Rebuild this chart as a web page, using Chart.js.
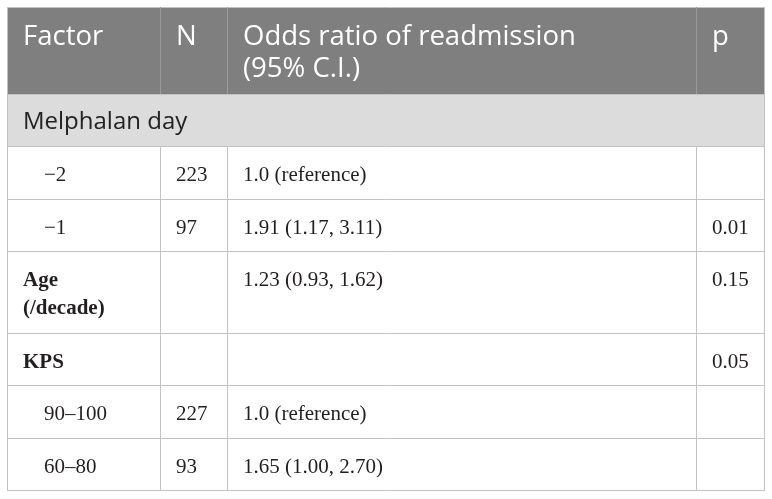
<!DOCTYPE html>
<html>
<head>
<meta charset="utf-8">
<script src="https://cdn.jsdelivr.net/npm/chart.js@4"></script>
<style>
  html, body { margin: 0; padding: 0; background: #fff; }
  canvas { display: block; }
</style>
</head>
<body>
<canvas id="oddsTable" width="772" height="499"></canvas>
<script>
// Table data
const headerLines = [["Factor"], ["N"], ["Odds ratio of readmission", "(95% C.I.)"], ["p"]];
const factorLabels = [["Melphalan day"], ["−2"], ["−1"], ["Age", "(/decade)"], ["KPS"], ["90–100"], ["60–80"]];
const rowKinds = ["section", "level", "level", "factor", "factor", "level", "level"];
const counts = [null, 223, 97, null, null, 227, 93];
const oddsRatios = [null, 1.0, 1.91, 1.23, null, 1.0, 1.65];
const ciLower = [null, null, 1.17, 0.93, null, null, 1.00];
const ciUpper = [null, null, 3.11, 1.62, null, null, 2.70];
const pValues = [null, null, 0.01, 0.15, 0.05, null, null];

// Layout (x in percent of table width, y in row units)
const colEdges = [0, 20.2, 29.0, 91.0, 100];
const HEADER_H = 87;
const ROW_PAD = 22.5;
const LINE_H = 29.8;

function formatOdds(i) {
  if (oddsRatios[i] == null) return "";
  if (ciLower[i] == null) return oddsRatios[i].toFixed(1) + " (reference)";
  return oddsRatios[i].toFixed(2) + " (" + ciLower[i].toFixed(2) + ", " + ciUpper[i].toFixed(2) + ")";
}

// cells for each body row, one array of lines per column
const bodyCells = factorLabels.map((f, i) => [
  f,
  counts[i] == null ? [] : [String(counts[i])],
  [formatOdds(i)],
  pValues[i] == null ? [] : [pValues[i].toFixed(2)]
]);

const rowHeights = factorLabels.map(f => ROW_PAD + LINE_H * f.length);
const rowTops = [];
let acc = HEADER_H;
rowHeights.forEach(h => { rowTops.push(acc); acc += h; });
const totalHeight = acc;

const tablePlugin = {
  id: "tablePlugin",
  afterDraw(chart) {
    const ctx = chart.ctx;
    const xs = chart.scales.x, ys = chart.scales.y;
    const X = v => Math.round(xs.getPixelForValue(v));
    const Y = v => Math.round(ys.getPixelForValue(v));
    const left = X(0), right = X(100);

    ctx.save();
    // header background
    ctx.fillStyle = "#7f7f7f";
    ctx.fillRect(left, Y(0), right - left, Y(HEADER_H) - Y(0));
    // section backgrounds
    rowKinds.forEach((k, i) => {
      if (k !== "section") return;
      ctx.fillStyle = "#dcdcdc";
      ctx.fillRect(left, Y(rowTops[i]), right - left, Y(rowTops[i] + rowHeights[i]) - Y(rowTops[i]));
    });

    // grid lines
    ctx.lineWidth = 1;
    ctx.strokeStyle = "#c3c3c3";
    const hline = (yv) => { ctx.beginPath(); ctx.moveTo(left, yv + 0.5); ctx.lineTo(right, yv + 0.5); ctx.stroke(); };
    const vline = (xv, y0, y1) => { ctx.beginPath(); ctx.moveTo(xv + 0.5, y0); ctx.lineTo(xv + 0.5, y1); ctx.stroke(); };
    hline(Y(0));
    rowTops.forEach(t => hline(Y(t)));
    hline(Y(totalHeight));
    vline(left, Y(0), Y(totalHeight) + 1);
    vline(right, Y(0), Y(totalHeight) + 1);
    ctx.strokeStyle = "#9a9a9a";
    for (let c = 1; c < colEdges.length - 1; c++) vline(X(colEdges[c]), Y(0), Y(HEADER_H));
    ctx.strokeStyle = "#c3c3c3";
    rowKinds.forEach((k, i) => {
      if (k === "section") return;
      for (let c = 1; c < colEdges.length - 1; c++) vline(X(colEdges[c]), Y(rowTops[i]), Y(rowTops[i] + rowHeights[i]));
    });

    // header text
    ctx.textBaseline = "alphabetic";
    ctx.fillStyle = "#ffffff";
    ctx.font = "27.5px 'Open Sans'";
    headerLines.forEach((lines, c) => {
      lines.forEach((t, j) => ctx.fillText(t, X(colEdges[c]) + 16, Y(0) + 38 + 32 * j));
    });

    // body text
    bodyCells.forEach((cells, i) => {
      const kind = rowKinds[i];
      const top = Y(rowTops[i]);
      cells.forEach((lines, c) => {
        if (kind === "section") {
          ctx.font = "24px 'Open Sans'";
          ctx.fillStyle = "#222222";
        } else if (kind === "factor" && c === 0) {
          ctx.font = "bold 21px 'Liberation Serif'";
          ctx.fillStyle = "#231f20";
        } else {
          ctx.font = "21px 'Liberation Serif'";
          ctx.fillStyle = "#231f20";
        }
        const indent = (kind === "level" && c === 0) ? 21 : 0;
        lines.forEach((t, j) => ctx.fillText(t, X(colEdges[c]) + 16 + indent, top + 34.5 + 28 * j));
      });
    });
    ctx.restore();
  }
};

new Chart(document.getElementById("oddsTable"), {
  type: "scatter",
  data: { datasets: [] },
  options: {
    responsive: false,
    animation: false,
    layout: { padding: { left: 7, right: 8, top: 7, bottom: 9 } },
    plugins: { legend: { display: false }, tooltip: { enabled: false } },
    scales: {
      x: { type: "linear", min: 0, max: 100, display: false },
      y: { type: "linear", min: 0, max: totalHeight, reverse: true, display: false }
    }
  },
  plugins: [tablePlugin]
});
</script>
</body>
</html>
